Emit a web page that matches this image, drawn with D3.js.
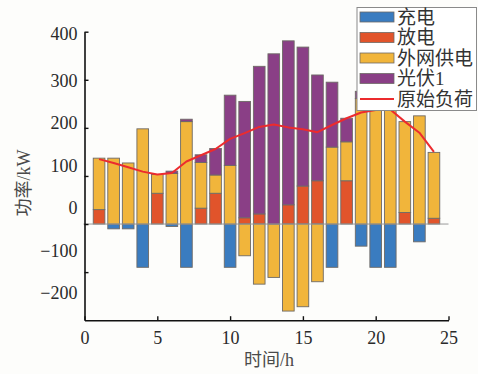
<!DOCTYPE html>
<html>
<head>
<meta charset="utf-8">
<script src="https://cdn.jsdelivr.net/npm/d3@7"></script>
<style>
  html, body { margin: 0; padding: 0; background: #fdfdfb; }
  svg { display: block; }
</style>
</head>
<body>
<svg id="chart" width="478" height="374"></svg>
<script>
// Hourly power balance (kW)
const hours = d3.range(1, 25);
const charge    = [0, -10, -10, -90, 0, -5, -90, 0, 0, -90, 0, 0, 0, 0, 0, 0, -90, 0, -46, -90, -90, 0, -37, 0];
const discharge = [30, 0, 0, 0, 64, 0, 0, 33, 64, 0, 13, 21, 0, 40, 79, 90, 0, 90, 0, 0, 0, 24, 0, 12];
const grid      = [107, 137, 127, 198, 39, 105, 213, 95, 38, 122, -66, -125, -111, -181, -172, -120, 160, 81, 261, 327, 328, 189, 225, 137];
const pv        = [0, 0, 0, 0, 0, 5, 5, 16, 55, 146, 242, 307, 354, 341, 289, 220, 135, 49, 15, 0, 0, 0, 0, 0];
const load      = [135, 127, 118, 109, 103, 106, 130, 143, 156, 177, 189, 202, 207, 201, 197, 191, 206, 220, 232, 237, 238, 213, 190, 150];

const seriesKeys   = ["charge", "discharge", "grid", "pv"];
const seriesNames  = ["充电", "放电", "外网供电", "光伏1"];
const lineName     = "原始负荷";
const xTicks       = [0, 5, 10, 15, 20, 25];
const yTicks       = [-200, -100, 0, 100, 200, 300, 400];
const xTitle       = "时间/h";
const yTitle       = "功率/kW";

const colors = { charge: "#3a7cc0", discharge: "#e1542b", grid: "#f1b53b", pv: "#8a3f86" };
const lineColor = "#ec2b2e";
const serif = "'Liberation Serif', 'Times New Roman', 'Noto Sans CJK SC'";

const svg = d3.select("#chart").style("font-family", serif);

const x = d3.scaleLinear().domain([0, 25]).range([84.5, 448.5]);
const y = d3.scaleLinear().domain([-200, 400]).range([320.2, 31.7]);
// tick text sits on its own (compressed) vertical scale
const yLabel = d3.scaleLinear().domain([-200, 300, 400]).range([293.3, 80.5, 34.2]);

const rows = hours.map((h, i) => ({
  hour: h, charge: charge[i], discharge: discharge[i], grid: grid[i], pv: pv[i]
}));
const stacked = d3.stack().keys(seriesKeys).offset(d3.stackOffsetDiverging)(rows);

const barW = (x(1) - x(0)) * 0.8;

// stacked bars
svg.append("g").selectAll("g")
  .data(stacked)
  .join("g")
  .attr("fill", d => colors[d.key])
  .selectAll("rect")
  .data(d => d.filter(s => s[1] !== s[0]))
  .join("rect")
  .attr("x", d => x(d.data.hour) - barW / 2)
  .attr("width", barW)
  .attr("y", d => y(Math.max(d[0], d[1])))
  .attr("height", d => Math.abs(y(d[0]) - y(d[1])))
  .attr("stroke", "#6e6a66")
  .attr("stroke-width", 0.9);

// zero reference line
svg.append("line")
  .attr("x1", x(0) - 1).attr("x2", x(25))
  .attr("y1", y(0)).attr("y2", y(0))
  .attr("stroke", "#9a9a9a").attr("stroke-width", 1);

// original load curve
svg.append("path")
  .datum(hours.map((h, i) => [h, load[i]]))
  .attr("fill", "none")
  .attr("stroke", lineColor)
  .attr("stroke-width", 2)
  .attr("stroke-linejoin", "round")
  .attr("d", d3.line().x(d => x(d[0])).y(d => y(d[1])));

// axes
const xAxis = svg.append("g")
  .attr("transform", `translate(0,${y(-200)})`)
  .call(d3.axisBottom(x).tickValues(xTicks).tickSizeInner(-4).tickSizeOuter(0).tickPadding(11));
const yAxis = svg.append("g")
  .attr("transform", `translate(${x(0)},0)`)
  .call(d3.axisLeft(y).tickValues(yTicks.filter(v => v > -200)).tickSizeInner(-4).tickSizeOuter(0).tickPadding(7));

[xAxis, yAxis].forEach(g => {
  g.attr("font-family", null).style("font-family", serif);
  g.select(".domain").attr("stroke", "#111").attr("stroke-width", 1.6);
  g.selectAll(".tick line").attr("stroke", "#111").attr("stroke-width", 1.4);
  g.selectAll(".tick text").attr("font-size", 18).attr("fill", "#2a2a2a");
});

// y tick labels, including the bottom value, placed on the label scale
yAxis.selectAll(".tick text")
  .attr("y", d => yLabel(d) - y(d));
yAxis.append("text")
  .attr("x", -7).attr("y", yLabel(-200)).attr("dy", "0.32em")
  .attr("text-anchor", "end").attr("font-size", 18).attr("fill", "#2a2a2a")
  .text(d3.format("")(-200));

// axis titles
svg.append("text")
  .attr("transform", `translate(24,183) rotate(-90)`)
  .attr("text-anchor", "middle").attr("dominant-baseline", "central")
  .attr("font-size", 18).attr("fill", "#4a4a4a")
  .text(yTitle);
svg.append("text")
  .attr("x", 269).attr("y", 366)
  .attr("text-anchor", "middle")
  .attr("font-size", 18).attr("fill", "#4a4a4a")
  .text(xTitle);

// legend
const lg = svg.append("g");
lg.append("rect")
  .attr("x", 357).attr("y", 7.5).attr("width", 119.5).attr("height", 103)
  .attr("fill", "#ffffff").attr("stroke", "#8a8a8a").attr("stroke-width", 1);
const rowY = i => 17 + i * 20.5;
seriesKeys.forEach((k, i) => {
  lg.append("rect")
    .attr("x", 360).attr("y", rowY(i) - 5).attr("width", 34).attr("height", 10)
    .attr("fill", colors[k]).attr("stroke", "#6e6a66").attr("stroke-width", 0.8);
  lg.append("text")
    .attr("x", 397).attr("y", rowY(i)).attr("dominant-baseline", "central")
    .attr("font-size", 19).attr("fill", "#333")
    .text(seriesNames[i]);
});
lg.append("line")
  .attr("x1", 360).attr("x2", 394).attr("y1", rowY(4)).attr("y2", rowY(4))
  .attr("stroke", lineColor).attr("stroke-width", 2);
lg.append("text")
  .attr("x", 397).attr("y", rowY(4)).attr("dominant-baseline", "central")
  .attr("font-size", 19).attr("fill", "#333")
  .text(lineName);
</script>
</body>
</html>
